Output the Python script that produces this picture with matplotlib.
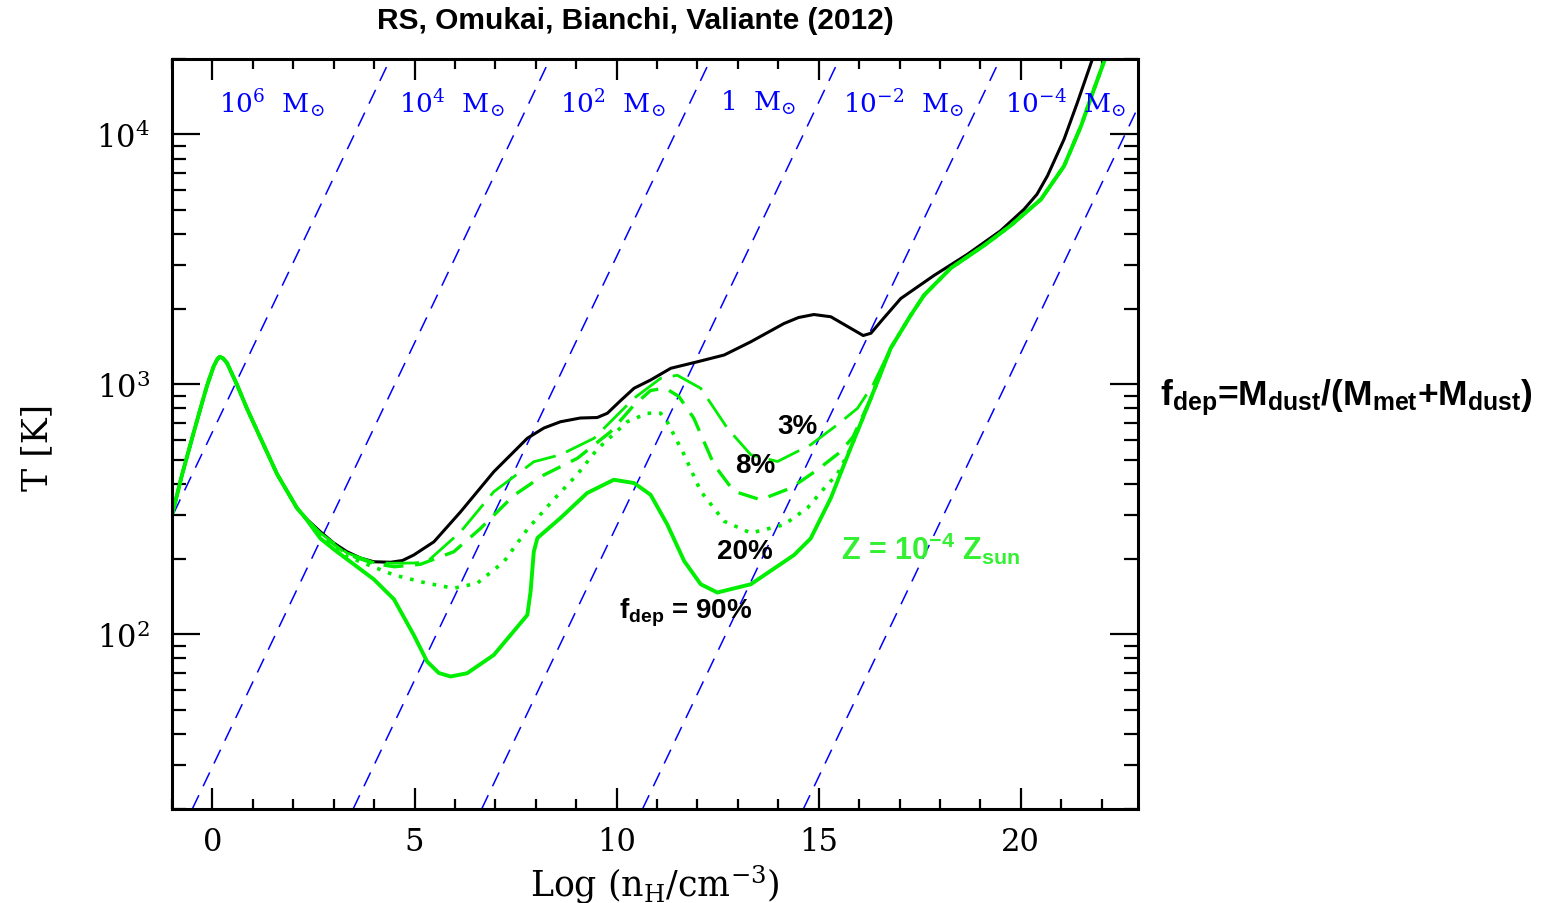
import numpy as np
import matplotlib
matplotlib.use("Agg")
import matplotlib.pyplot as plt
from matplotlib.ticker import FixedLocator, NullFormatter

plt.rcParams['mathtext.fontset'] = 'dejavuserif'
plt.rcParams['mathtext.rm'] = 'Liberation Sans:bold'
plt.rcParams['mathtext.it'] = 'Liberation Sans:bold'
plt.rcParams['mathtext.bf'] = 'Liberation Sans:bold'
plt.rcParams['mathtext.sf'] = 'Liberation Sans:bold'

# ---- data (log n_H, log T) ----
# low-density part shared by all runs
head_x = [-1.0, -0.75, -0.46, -0.25, -0.13, 0.03, 0.12, 0.18, 0.26, 0.36, 0.61, 0.85, 1.19,
          1.60, 2.09, 2.30]
head_t = [2.478, 2.64, 2.81, 2.93, 2.997, 3.072, 3.10, 3.11, 3.104, 3.085, 2.997, 2.904, 2.784,
          2.64, 2.505, 2.465]

# no depletion (black)
black_x = [2.67, 3.0, 3.33, 3.66, 3.99, 4.41, 4.7, 4.98, 5.48, 6.14, 6.96, 7.79, 8.2, 8.61, 9.10,
           9.52, 9.77, 10.1, 10.43, 10.84, 11.34, 12.0, 12.66, 13.32, 14.14, 14.5, 14.88, 15.30,
           15.79, 16.10, 16.29, 16.6, 17.03, 17.85, 18.68, 19.5, 20.08, 20.4, 20.66, 21.07, 21.4,
           21.77, 21.9]
black_t = [2.41, 2.365, 2.33, 2.305, 2.29, 2.288, 2.295, 2.317, 2.37, 2.49, 2.65, 2.784, 2.825,
           2.85, 2.865, 2.867, 2.884, 2.935, 2.984, 3.017, 3.064, 3.09, 3.117, 3.17, 3.243, 3.267,
           3.279, 3.27, 3.224, 3.195, 3.204, 3.263, 3.343, 3.435, 3.52, 3.614, 3.70, 3.76, 3.834,
           3.98, 4.127, 4.30, 4.36]

# high-density branch where all dusty runs merge
tail_x = [16.29, 16.78, 17.28, 17.61, 18.27, 19.09, 19.75, 20.5, 21.07, 21.49, 21.81, 22.08, 22.2]
tail_t = [2.944, 3.144, 3.277, 3.357, 3.465, 3.555, 3.635, 3.74, 3.873, 4.033, 4.18, 4.30, 4.36]

f3_x = [2.67, 3.33, 3.99, 4.41, 4.98, 5.31, 6.14, 6.96, 7.95, 8.61, 9.44, 10.43, 11.09, 11.5,
        12.08, 12.74, 13.32, 13.98, 14.8, 15.46, 15.96, 16.35]
f3_t = [2.405, 2.325, 2.287, 2.284, 2.285, 2.29, 2.41, 2.57, 2.69, 2.718, 2.784, 2.944, 3.024, 3.036,
        2.984, 2.824, 2.718, 2.691, 2.758, 2.838, 2.904, 3.0]

f8_x = [2.67, 3.33, 3.99, 4.5, 5.15, 5.97, 6.63, 7.46, 8.2, 9.03, 9.85, 10.43, 10.84, 11.2,
        11.54, 11.91, 12.41, 12.9, 13.56, 14.31, 14.97, 15.54, 15.85]
f8_t = [2.40, 2.32, 2.283, 2.27, 2.28, 2.33, 2.423, 2.556, 2.637, 2.704, 2.81, 2.917, 2.975, 2.985,
        2.951, 2.864, 2.678, 2.572, 2.538, 2.585, 2.658, 2.73, 2.79]

f20_x = [2.67, 3.33, 3.66, 4.49, 5.31, 5.97, 6.55, 7.21, 7.79, 8.45, 9.03, 9.52, 10.26, 10.76,
         11.09, 11.25, 11.67, 12.08, 12.66, 13.32, 14.14, 14.72, 15.21, 15.46, 15.79]
f20_t = [2.395, 2.31, 2.29, 2.237, 2.204, 2.184, 2.204, 2.29, 2.42, 2.54, 2.64, 2.74, 2.85, 2.884,
         2.884, 2.85, 2.718, 2.572, 2.452, 2.405, 2.438, 2.505, 2.598, 2.64, 2.745]

f90_x = [2.67, 3.0, 3.33, 3.66, 3.99, 4.49, 4.98, 5.31, 5.6, 5.89, 6.30, 6.96, 7.79, 7.87, 7.91,
         7.95, 8.04, 8.61, 9.27, 9.93, 10.43, 10.84, 11.25, 11.67, 12.08, 12.49, 13.32, 14.39,
         14.80, 15.30, 15.79]
f90_t = [2.383, 2.34, 2.30, 2.26, 2.22, 2.14, 1.997, 1.891, 1.845, 1.831, 1.844, 1.917, 2.077, 2.17,
         2.25, 2.33, 2.385, 2.465, 2.565, 2.618, 2.605, 2.558, 2.44, 2.293, 2.2, 2.167, 2.2, 2.317,
         2.383, 2.545, 2.745]

# Jeans mass lines: log n_H where each reaches T = 20 K, and slope dlogT/dlogn
jeans_x20 = [-4.45, -0.50, 3.48, 6.66, 10.64, 14.62]
jeans_slope = 0.339
jeans_labels = [r"$10^{6}\ \ \mathrm{M}_{\odot}$", r"$10^{4}\ \ \mathrm{M}_{\odot}$",
                r"$10^{2}\ \ \mathrm{M}_{\odot}$", r"$1\ \ \mathrm{M}_{\odot}$",
                r"$10^{-2}\ \ \mathrm{M}_{\odot}$", r"$10^{-4}\ \ \mathrm{M}_{\odot}$"]
jeans_label_x = [1.46, 5.92, 9.9, 13.5, 17.1, 21.1]

green = '#00ee00'

fig = plt.figure(figsize=(15.6, 9.04), dpi=100)
ax = fig.add_axes([0.1103, 0.104, 0.6192, 0.8296])

for x0 in jeans_x20:
    xs = np.array([x0, x0 + 10.0])
    ax.plot(xs, 20.0 * 10 ** (jeans_slope * (xs - x0)), color='#0000ff', lw=1.1,
            dashes=(10, 6.5))
for xl, lab in zip(jeans_label_x, jeans_labels):
    ax.text(xl, 10 ** 4.128, lab, color='#0000ff', fontsize=19, ha='center', va='center',
            family='DejaVu Serif', math_fontfamily='dejavuserif')


def full(xs, ts, tail=True):
    x = head_x + xs
    t = head_t + ts
    if tail:
        i = [k for k, v in enumerate(tail_x) if v > xs[-1]]
        x = x + [tail_x[k] for k in i]
        t = t + [tail_t[k] for k in i]
    return np.array(x), 10 ** np.array(t)


bx, bt = full(black_x, black_t, tail=False)
ax.plot(bx, bt, color='black', lw=2.2, solid_joinstyle='round')

x, t = full(f3_x, f3_t)
ax.plot(x, t, color=green, lw=2.0, dashes=(12, 4))
x, t = full(f8_x, f8_t)
ax.plot(x, t, color=green, lw=2.4, dashes=(6, 3.5))
x, t = full(f20_x, f20_t)
ax.plot(x, t, color=green, lw=2.6, dashes=(1.0, 2.2))
x, t = full(f90_x, f90_t)
ax.plot(x, t, color=green, lw=2.8, solid_joinstyle='round')

ax.set_yscale('log')
ax.set_xlim(-1, 22.9)
ax.set_ylim(20, 20000)

ax.xaxis.set_major_locator(FixedLocator([0, 5, 10, 15, 20]))
ax.xaxis.set_minor_locator(FixedLocator(np.arange(-1, 23, 1)))
ax.set_xticklabels(['0', '5', '10', '15', '20'])
ax.set_yticks([100, 1000, 10000])
ax.set_yticklabels([r"$10^{2}$", r"$10^{3}$", r"$10^{4}$"])
ax.yaxis.set_minor_locator(FixedLocator([m * 10 ** d for d in (1, 2, 3, 4) for m in range(2, 10)]))
ax.yaxis.set_minor_formatter(NullFormatter())

ax.tick_params(which='both', direction='in', top=True, right=True, width=1.6, colors='black')
ax.tick_params(axis='x', which='major', length=15, pad=12, labelsize=22)
ax.tick_params(axis='x', which='minor', length=7.5)
ax.tick_params(axis='y', which='major', length=20, pad=16, labelsize=22)
ax.tick_params(axis='y', which='minor', length=10)
for lab in ax.get_xticklabels() + ax.get_yticklabels():
    lab.set_family('DejaVu Serif')
    lab.set_math_fontfamily('dejavuserif')
for s in ax.spines.values():
    s.set_linewidth(2.2)

sans = dict(family='Liberation Sans', weight='bold', fontsize=20, math_fontfamily='custom')
ax.text(14.48, 10 ** 2.832, "3%", ha='center', va='center', **sans)
ax.text(13.42, 10 ** 2.677, "8%", ha='center', va='center', **sans)
ax.text(13.17, 10 ** 2.333, "20%", ha='center', va='center', **sans)
ax.text(11.71, 10 ** 2.09, r"f$_\mathrm{dep}$ = 90%", ha='center', va='center', **sans)
ax.text(15.54, 10 ** 2.30, r"Z = 10$^{-4}$ Z$_\mathrm{sun}$", ha='left', va='baseline',
        color='#33f033', family='Liberation Sans', weight='bold', fontsize=22,
        math_fontfamily='custom')

fig.text(0.7436, 0.5597, r"f$_\mathrm{dep}$=M$_\mathrm{dust}$/(M$_\mathrm{met}$+M$_\mathrm{dust}$)",
         ha='left', va='center', family='Liberation Sans', weight='bold', fontsize=25.5,
         math_fontfamily='custom')
fig.text(0.407, 0.977, "RS, Omukai, Bianchi, Valiante (2012)", ha='center', va='center',
         family='Liberation Sans', weight='bold', fontsize=21.5)
fig.text(0.42, 0.021, r"Log (n$_\mathrm{H}$/cm$^{-3}$)", ha='center', va='center',
         family='DejaVu Serif', fontsize=25, math_fontfamily='dejavuserif')
fig.text(0.024, 0.505, "T [K]", ha='center', va='center', rotation=90,
         family='DejaVu Serif', fontsize=25)

fig.savefig("out.png", dpi=100)
